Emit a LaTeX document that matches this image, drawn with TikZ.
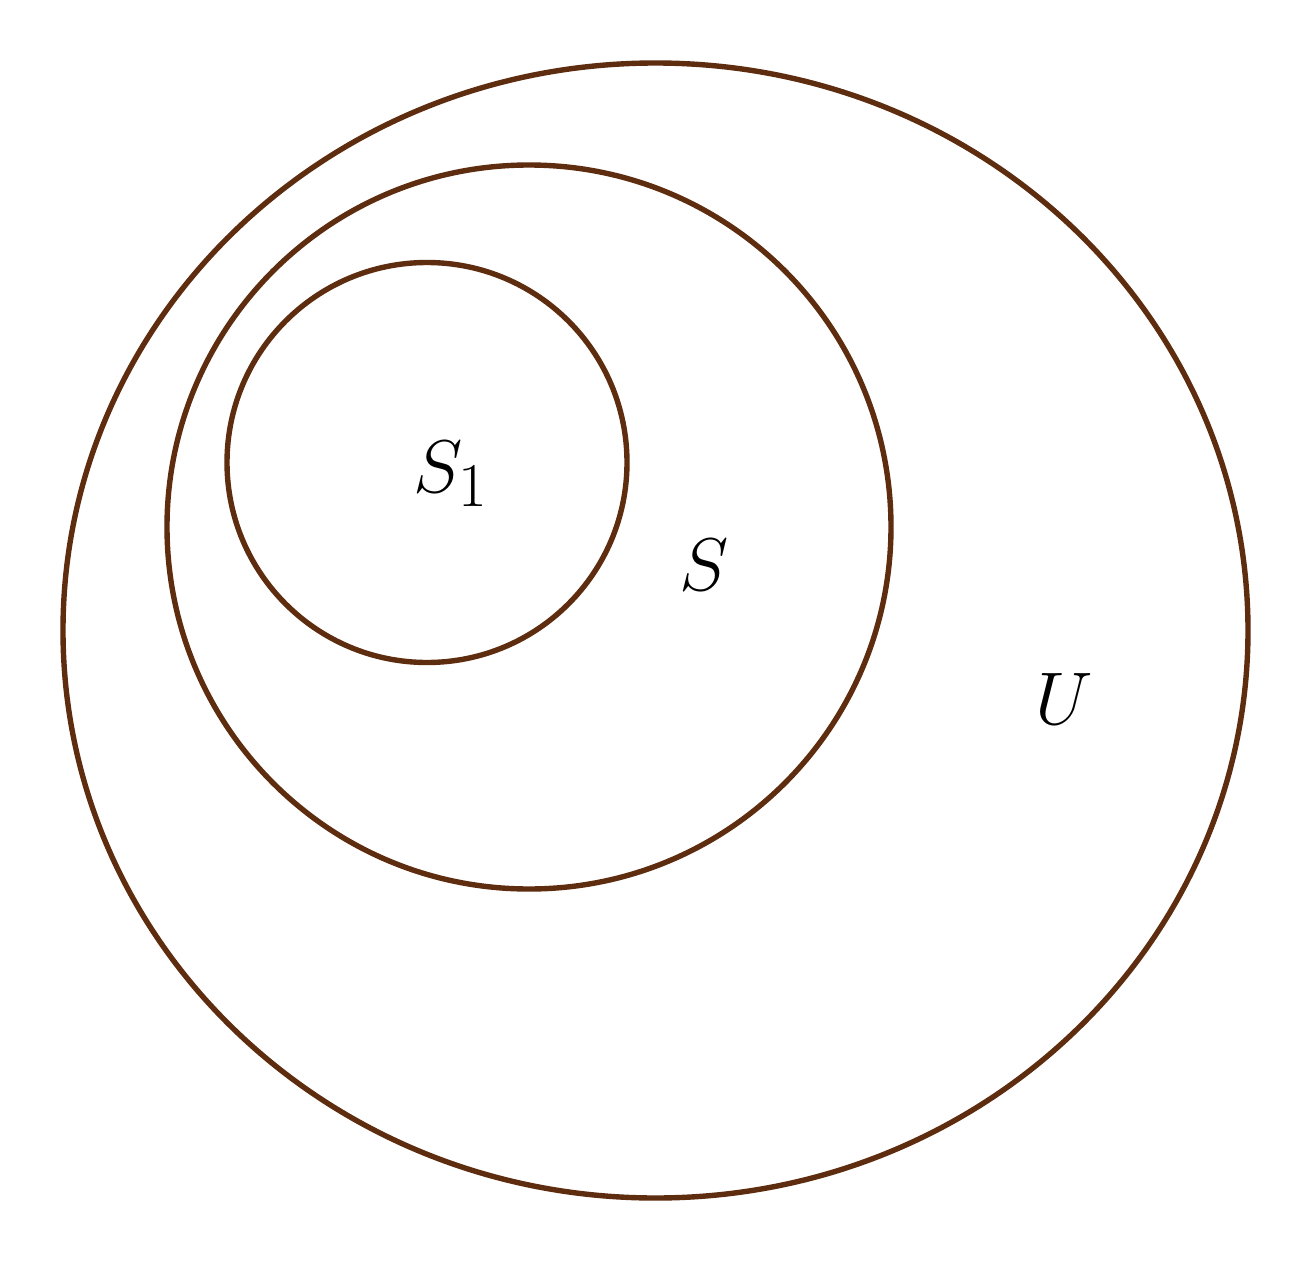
\documentclass[tikz,border=0pt]{standalone}
\definecolor{setbrown}{HTML}{5E2C0F}
\begin{document}
\begin{tikzpicture}[x=0.5pt,y=-0.5pt,
  setline/.style={draw=setbrown,line width=2.7pt},
  setlabel/.style={font=\Huge,inner sep=0pt,transform shape,scale=1.5}]
\useasboundingbox (0,0) rectangle (1312,1263);
\draw[setline] (655.5,630.5) ellipse [x radius=592.5, y radius=567.5];
\draw[setline] (529,527) ellipse [x radius=362, y radius=362];
\draw[setline] (427,462.5) ellipse [x radius=200, y radius=200];
\node[setlabel] (s1) at (451,474) {$S_1$};
\node[setlabel] (s) at (704,565) {$S$};
\node[setlabel] (u) at (1064,699) {$U$};
\end{tikzpicture}
\end{document}
